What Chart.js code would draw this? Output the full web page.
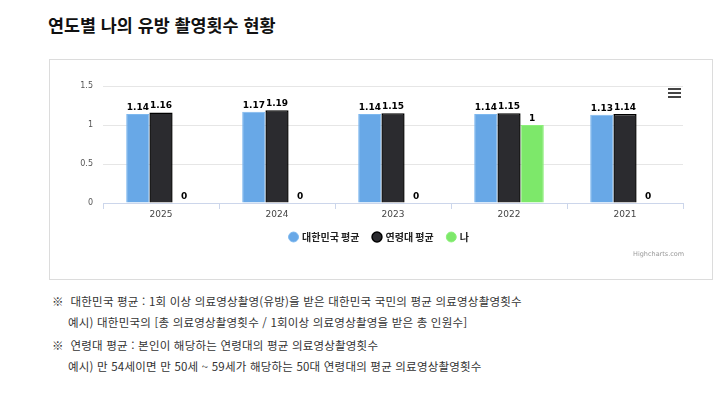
<!DOCTYPE html>
<html lang="ko">
<head>
<meta charset="utf-8">
<script src="https://cdn.jsdelivr.net/npm/chart.js@4.4.1/dist/chart.umd.min.js"></script>
<style>
  body { margin: 0; background: #fff; font-family: "Noto Sans CJK KR", "Noto Sans", sans-serif; color: #222; }
  .title { position: absolute; left: 48px; top: 12px; font-size: 17.4px; font-weight: bold; color: #111; }
  .box { position: absolute; left: 49px; top: 59px; width: 662px; height: 219px; border: 1px solid #dcdcdc; }
  .chart-wrap { position: absolute; left: 0; top: 0; width: 662px; height: 219px; }
  .menu { position: absolute; left: 618px; top: 28px; width: 13px; }
  .menu span { display: block; height: 2px; background: #444; margin-bottom: 2px; }
  .credit { position: absolute; left: 583px; top: 190px; font-size: 6.5px; color: #999; font-family: "DejaVu Sans", sans-serif; }
  .notes { position: absolute; left: 52px; top: 291px; font-size: 11.5px; letter-spacing: 0.2px; color: #333; }
  .notes p { margin: 0; line-height: 21px; }
  .notes .gap { margin-top: 2px; }
  .notes .sub { padding-left: 16px; }
</style>
</head>
<body>
<div class="title">연도별 나의 유방 촬영횟수 현황</div>
<div class="box">
  <div class="chart-wrap"><canvas id="yearChart"></canvas></div>
  <div class="menu"><span></span><span></span><span></span></div>
  <div class="credit">Highcharts.com</div>
</div>
<div class="notes">
  <p>※&nbsp; 대한민국 평균 : 1회 이상 의료영상촬영(유방)을 받은 대한민국 국민의 평균 의료영상촬영횟수</p>
  <p class="sub">예시) 대한민국의 [총 의료영상촬영횟수 / 1회이상 의료영상촬영을 받은 총 인원수]</p>
  <p class="gap">※&nbsp; 연령대 평균 : 본인이 해당하는 연령대의 평균 의료영상촬영횟수</p>
  <p class="sub">예시) 만 54세이면 만 50세 ~ 59세가 해당하는 50대 연령대의 평균 의료영상촬영횟수</p>
</div>

<script>
const years = ["2025", "2024", "2023", "2022", "2021"];
const koreaAvg = [1.14, 1.17, 1.14, 1.14, 1.13];
const ageAvg = [1.16, 1.19, 1.15, 1.15, 1.14];
const mine = [0, 0, 0, 1, 0];
const yTicks = [0, 0.5, 1, 1.5];

// 막대 위 값 표시
const valueLabels = {
  id: "valueLabels",
  afterDatasetsDraw(chart) {
    const ctx = chart.ctx;
    ctx.save();
    ctx.font = "bold 9px 'DejaVu Sans', sans-serif";
    ctx.textAlign = "center";
    ctx.textBaseline = "bottom";
    ctx.lineJoin = "round";
    chart.data.datasets.forEach((ds, i) => {
      chart.getDatasetMeta(i).data.forEach((bar, j) => {
        const txt = String(ds.data[j]);
        ctx.strokeStyle = "#fff";
        ctx.lineWidth = 2;
        ctx.strokeText(txt, bar.x, bar.y - 2);
        ctx.fillStyle = "#000";
        ctx.fillText(txt, bar.x, bar.y - 2);
      });
    });
    ctx.restore();
  }
};

// 범례를 박스 가운데로 살짝 이동
const legendShift = {
  id: "legendShift",
  afterLayout(chart) {
    const lg = chart.legend;
    if (!lg) return;
    lg.left += 13; lg.right += 13;
    lg.top -= 3; lg.bottom -= 3;
  }
};

new Chart(document.getElementById("yearChart"), {
  type: "bar",
  data: {
    labels: years,
    datasets: [
      { label: "대한민국 평균", data: koreaAvg, backgroundColor: "#68a8e7", borderColor: "#7db8ef", borderWidth: 1 },
      { label: "연령대 평균", data: ageAvg, backgroundColor: "#2b2b2f", borderColor: "#000", borderWidth: 1.5 },
      { label: "나", data: mine, backgroundColor: "#7de86a", borderColor: "#8cf07a", borderWidth: 1 }
    ]
  },
  options: {
    responsive: true,
    maintainAspectRatio: false,
    animation: false,
    layout: { padding: { top: 26, right: 29, bottom: 24, left: 0 } },
    datasets: { bar: { categoryPercentage: 0.6, barPercentage: 1 } },
    scales: {
      x: {
        offset: true,
        grid: { offset: true, drawOnChartArea: false, drawTicks: true, tickLength: 6, color: "#ccd6eb" },
        border: { color: "#ccd6eb" },
        ticks: { color: "#444", font: { size: 9, family: "'DejaVu Sans', sans-serif" }, padding: 0 },
        afterFit(scale) { scale.height = 18; }
      },
      y: {
        min: 0,
        max: 1.5,
        afterBuildTicks(scale) { scale.ticks = yTicks.map(v => ({ value: v })); },
        grid: { color: "#e6e6e6", drawTicks: false },
        border: { display: false },
        ticks: { color: "#555", font: { size: 8, family: "'DejaVu Sans', sans-serif" }, padding: 10, callback: v => String(v) },
        afterFit(scale) { scale.width = 53; }
      }
    },
    plugins: {
      legend: {
        position: "bottom",
        labels: {
          usePointStyle: true,
          pointStyle: "circle",
          boxWidth: 7,
          boxHeight: 7,
          padding: 14,
          color: "#222",
          font: { size: 10, weight: "bold", family: "'Noto Sans CJK KR', sans-serif" }
        }
      },
      tooltip: { enabled: false }
    }
  },
  plugins: [valueLabels, legendShift]
});
</script>
</body>
</html>
